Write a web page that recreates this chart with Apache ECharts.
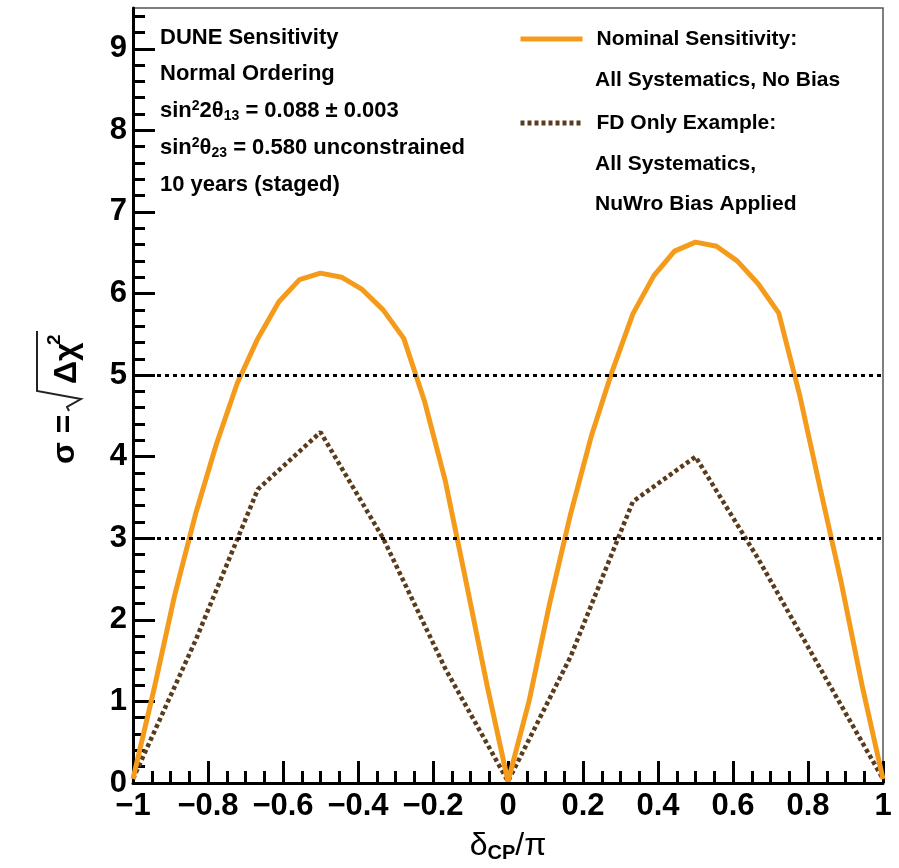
<!DOCTYPE html>
<html><head><meta charset="utf-8">
<script src="https://cdn.jsdelivr.net/npm/echarts@6/dist/echarts.min.js"></script>
<style>html,body{margin:0;padding:0;background:#fff}#c{width:899px;height:868px}</style>
</head><body><div id="c"></div>
<script>
// ---- data ----
const nominalX = [-1, -0.944, -0.889, -0.833, -0.778, -0.722, -0.667, -0.611, -0.556, -0.5,
  -0.444, -0.389, -0.333, -0.278, -0.222, -0.167, -0.111, -0.056, 0,
  0.056, 0.111, 0.167, 0.222, 0.278, 0.333, 0.389, 0.444, 0.5,
  0.556, 0.611, 0.667, 0.722, 0.778, 0.833, 0.889, 0.944, 1];
const nominalY = [0.05, 1.15, 2.3, 3.3, 4.15, 4.9, 5.45, 5.9, 6.17, 6.25,
  6.2, 6.05, 5.8, 5.45, 4.67, 3.7, 2.45, 1.2, 0.02,
  1.0, 2.2, 3.3, 4.25, 5.05, 5.75, 6.22, 6.52, 6.63,
  6.58, 6.4, 6.12, 5.76, 4.75, 3.6, 2.45, 1.2, 0.05];
const fdX = [-1, -0.833, -0.667, -0.5, -0.333, -0.167, 0, 0.167, 0.333, 0.5, 0.667, 0.833, 1];
const fdY = [0.05, 1.75, 3.6, 4.3, 3.0, 1.4, 0.02, 1.55, 3.45, 4.0, 2.75, 1.4, 0.05];
const refLevels = [3, 5];
const yTicks = [0, 1, 2, 3, 4, 5, 6, 7, 8, 9];
const seriesNames = ['Nominal Sensitivity:', 'FD Only Example:'];
const legendExtra = ['All Systematics, No Bias', 'All Systematics,', 'NuWro Bias Applied'];
const infoLines = ['DUNE Sensitivity', 'Normal Ordering', '10 years (staged)'];

const FONT = 'Liberation Sans, Arial, Helvetica, sans-serif';
const ORANGE = '#f59b1c';
const BROWN = '#5a3b1c';

function zip(xs, ys) { return xs.map((x, i) => [x, ys[i]]); }
function fmtX(v) {
  const r = Math.round(v * 10) / 10;
  if (r === 0) return '0';
  return (r < 0 ? '\u2212' : '') + String(Math.abs(r));
}

const chart = echarts.init(document.getElementById('c'), null, {renderer: 'canvas'});

const txt = (x, y, text, size) => ({
  type: 'text', x: x, y: y,
  style: {text: text, font: 'bold ' + (size || 22) + 'px ' + FONT, fill: '#000', textAlign: 'left', textVerticalAlign: 'middle'}
});

const richInfo = {
  n: {fontSize: 22, fontWeight: 'bold', fontFamily: FONT, color: '#000', lineHeight: 24},
  sup: {fontSize: 14, fontWeight: 'bold', fontFamily: FONT, color: '#000', lineHeight: 12, verticalAlign: 'top'},
  sub: {fontSize: 14, fontWeight: 'bold', fontFamily: FONT, color: '#000', lineHeight: 10, verticalAlign: 'bottom'}
};

chart.setOption({
  animation: false,
  backgroundColor: '#fff',
  grid: {left: 133, right: 16, top: 8, bottom: 85, show: true, borderColor: '#555', borderWidth: 1.5},
  xAxis: {
    type: 'value', min: -1, max: 1, interval: 0.2,
    name: '{d|\u03b4}{s|CP}{d|/\u03c0}', nameLocation: 'middle', nameGap: 46,
    nameTextStyle: {
      rich: {
        d: {fontSize: 32, fontWeight: 'normal', fontFamily: FONT, color: '#000', lineHeight: 34},
        s: {fontSize: 20, fontWeight: 'bold', fontFamily: FONT, color: '#000', lineHeight: 16, verticalAlign: 'bottom'}
      }
    },
    axisLine: {show: true, onZero: false, lineStyle: {color: '#000', width: 3}},
    axisTick: {show: true, inside: true, length: 22, lineStyle: {color: '#000', width: 3}},
    minorTick: {show: true, splitNumber: 4, length: 12, lineStyle: {color: '#000', width: 3}},
    axisLabel: {fontSize: 31, fontWeight: 'bold', fontFamily: FONT, color: '#000', margin: 8, formatter: fmtX},
    splitLine: {show: false}
  },
  yAxis: {
    type: 'value', min: 0, max: 9.5, interval: 1,
    axisLine: {show: true, onZero: false, lineStyle: {color: '#000', width: 3}},
    axisTick: {show: true, inside: true, length: 22, lineStyle: {color: '#000', width: 3}, customValues: yTicks},
    minorTick: {show: true, splitNumber: 5, length: 12, lineStyle: {color: '#000', width: 3}},
    axisLabel: {fontSize: 31, fontWeight: 'bold', fontFamily: FONT, color: '#000', margin: 6,
      customValues: yTicks, formatter: v => String(v)},
    splitLine: {show: false}
  },
  legend: {
    orient: 'vertical', left: 518, top: 27, padding: 0, itemWidth: 62, itemHeight: 14, itemGap: 60,
    data: seriesNames, selectedMode: false,
    itemStyle: {opacity: 0},
    lineStyle: {width: 5},
    textStyle: {fontSize: 21, fontWeight: 'bold', fontFamily: FONT, color: '#000', lineHeight: 24, padding: [0, 0, 0, 9]}
  },
  series: [
    {
      name: seriesNames[1], type: 'line', data: zip(fdX, fdY), symbol: 'none', showSymbol: false,
      lineStyle: {color: BROWN, width: 4.5, type: [4, 3]}, itemStyle: {color: BROWN}, z: 3
    },
    {
      name: seriesNames[0], type: 'line', data: zip(nominalX, nominalY), symbol: 'none', showSymbol: false,
      lineStyle: {color: ORANGE, width: 5}, itemStyle: {color: ORANGE}, z: 4,
      markLine: {
        silent: true, symbol: 'none', label: {show: false},
        lineStyle: {color: '#000', width: 3, type: [4, 4]},
        data: refLevels.map(v => ({yAxis: v}))
      }
    }
  ],
  graphic: [
    txt(160, 38, infoLines[0]),
    txt(160, 74, infoLines[1]),
    {type: 'text', x: 160, y: 99, style: {text: '{n|sin}{sup|2}{n|2\u03b8}{sub|13}{n| = 0.088 \u00b1 0.003}', rich: richInfo, textVerticalAlign: 'top'}},
    {type: 'text', x: 160, y: 136, style: {text: '{n|sin}{sup|2}{n|\u03b8}{sub|23}{n| = 0.580 unconstrained}', rich: richInfo, textVerticalAlign: 'top'}},
    txt(160, 185, infoLines[2]),
    txt(595, 80, legendExtra[0], 21),
    txt(595, 164, legendExtra[1], 21),
    txt(595, 204, legendExtra[2], 21),
    {
      type: 'group', x: 65, y: 397, rotation: Math.PI / 2,
      children: [
        {type: 'text', x: -67, y: 0, style: {text: '\u03c3 =', font: 'bold 32px ' + FONT, fill: '#000', textAlign: 'left', textVerticalAlign: 'middle'}},
        {type: 'text', x: 13, y: 2, style: {text: '\u0394\u03c7', font: 'bold 32px ' + FONT, fill: '#000', textAlign: 'left', textVerticalAlign: 'middle'}},
        {type: 'text', x: 52, y: -10, style: {text: '2', font: 'bold 19px ' + FONT, fill: '#000', textAlign: 'left', textVerticalAlign: 'middle'}},
        {type: 'polyline', shape: {points: [[-14, 4], [-10, 2], [-2, 16], [6, -28], [66, -28]]},
          style: {stroke: '#222', lineWidth: 2, fill: null}}
      ]
    }
  ]
});
</script></body></html>
